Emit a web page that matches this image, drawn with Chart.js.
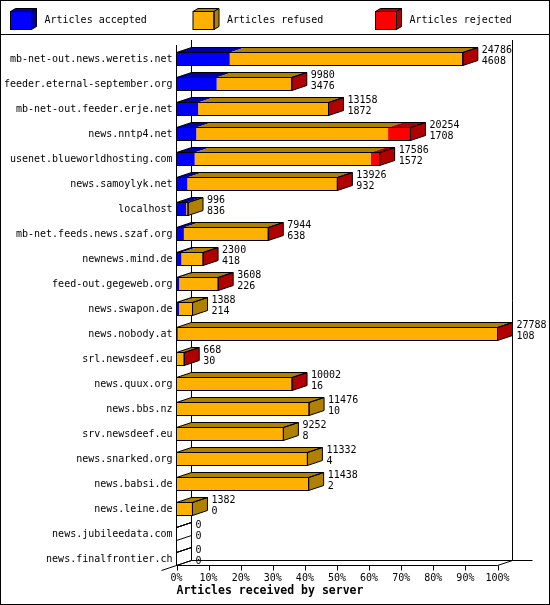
<!DOCTYPE html>
<html>
<head>
<meta charset="utf-8">
<title>Articles received by server</title>
<script src="https://cdn.jsdelivr.net/npm/chart.js@4.4.0/dist/chart.umd.min.js"></script>
<style>
  body { margin: 0; background: #fff; }
  canvas { display: block; }
</style>
</head>
<body>
<canvas id="bargraph" width="550" height="605"></canvas>
<script>
var servers = ['mb-net-out.news.weretis.net', 'feeder.eternal-september.org', 'mb-net-out.feeder.erje.net',
  'news.nntp4.net', 'usenet.blueworldhosting.com', 'news.samoylyk.net', 'localhost', 'mb-net.feeds.news.szaf.org',
  'newnews.mind.de', 'feed-out.gegeweb.org', 'news.swapon.de', 'news.nobody.at', 'srl.newsdeef.eu',
  'news.quux.org', 'news.bbs.nz', 'srv.newsdeef.eu', 'news.snarked.org', 'news.babsi.de', 'news.leine.de',
  'news.jubileedata.com', 'news.finalfrontier.ch'];
var totals   = [24786, 9980, 13158, 20254, 17586, 13926, 996, 7944, 2300, 3608, 1388, 27788, 668, 10002, 11476, 9252, 11332, 11438, 1382, 0, 0];
var accepted = [4608, 3476, 1872, 1708, 1572, 932, 836, 638, 418, 226, 214, 108, 30, 16, 10, 8, 4, 2, 0, 0, 0];
var refused  = [20138, 6484, 11256, 16606, 15234, 12979, 160, 7294, 1872, 3372, 1174, 27655, 634, 9978, 11466, 9244, 11328, 11436, 1382, 0, 0];
var rejected = [40, 20, 30, 1940, 780, 15, 0, 12, 10, 10, 0, 25, 4, 8, 0, 0, 0, 0, 0, 0, 0];
var pct_ticks = ['0%', '10%', '20%', '30%', '40%', '50%', '60%', '70%', '80%', '90%', '100%'];

var maxTotal = Math.max.apply(null, totals);
function pct(arr) {
  return arr.map(function(v){ return v / maxTotal * 100; });
}

var front = ['#0000ff', '#ffb000', '#ff0000'];
var shade = ['#0000aa', '#b08000', '#b00000'];
var DX = 15, DY = 5;
var mono = '"DejaVu Sans Mono", monospace';

function poly(ctx, pts) {
  ctx.beginPath();
  ctx.moveTo(pts[0][0], pts[0][1]);
  for (var k = 1; k < pts.length; k++) ctx.lineTo(pts[k][0], pts[k][1]);
  ctx.closePath();
}

// walls, floor, 3d faces, value labels and legend
var threeD = {
  id: 'threeD',
  beforeDatasetsDraw: function(chart) {
    var ctx = chart.ctx, a = chart.chartArea, xs = chart.scales.x, ys = chart.scales.y;
    var el = chart.getDatasetMeta(0).data[servers.length - 1];
    var floorY = el.y + el.height / 2;
    var x0 = xs.getPixelForValue(0), x1 = xs.getPixelForValue(100);
    ctx.save();
    ctx.strokeStyle = '#000';
    ctx.lineWidth = 1;
    ctx.beginPath();
    ctx.moveTo(x0, a.top - 1.5); ctx.lineTo(x0, floorY);
    ctx.moveTo(x0 + DX, a.top - 6.5); ctx.lineTo(x0 + DX, floorY - DY);
    ctx.moveTo(x1 + DX, a.top - 6.5); ctx.lineTo(x1 + DX, floorY - DY);
    ctx.moveTo(x0, floorY); ctx.lineTo(x1, floorY); ctx.lineTo(x1 + DX, floorY - DY); ctx.lineTo(x1 + DX + 20, floorY - DY);
    ctx.moveTo(x0 + DX, floorY - DY); ctx.lineTo(x1 + DX, floorY - DY);
    ctx.moveTo(x0 - DX, floorY + DY); ctx.lineTo(x0 + DX, floorY - DY);
    xs.ticks.forEach(function(t) {
      var px = Math.round(xs.getPixelForValue(t.value)) + 0.5;
      ctx.moveTo(px, floorY); ctx.lineTo(px, floorY + 5);
    });
    ctx.stroke();
    ctx.restore();
  },
  afterDatasetsDraw: function(chart) {
    var ctx = chart.ctx, xs = chart.scales.x;
    var x0 = xs.getPixelForValue(0);
    ctx.save();
    ctx.lineWidth = 1;
    ctx.font = '10px ' + mono;
    ctx.textBaseline = 'middle';
    ctx.textAlign = 'left';
    for (var i = 0; i < servers.length; i++) {
      var el0 = chart.getDatasetMeta(0).data[i];
      var top = el0.y - el0.height / 2, bot = el0.y + el0.height / 2;
      var R = x0, last = -1;
      for (var d = 0; d < 3; d++) {
        var el = chart.getDatasetMeta(d).data[i];
        var l = Math.min(el.base, el.x), r = Math.max(el.base, el.x);
        if (chart.data.datasets[d].data[i] > 0) {
          poly(ctx, [[l, top], [r, top], [r + DX, top - DY], [l + DX, top - DY]]);
          ctx.fillStyle = shade[d];
          ctx.fill();
          last = d;
        }
        R = Math.max(R, r);
      }
      var side = [[R, top], [R + DX, top - DY], [R + DX, bot - DY], [R, bot]];
      if (last >= 0) {
        poly(ctx, side);
        ctx.fillStyle = shade[last];
        ctx.fill();
      }
      ctx.strokeStyle = '#000';
      ctx.strokeRect(x0, top, R - x0, bot - top);
      poly(ctx, [[x0, top], [R, top], [R + DX, top - DY], [x0 + DX, top - DY]]);
      ctx.stroke();
      poly(ctx, side);
      ctx.stroke();
      ctx.fillStyle = '#000';
      ctx.fillText(String(totals[i]), R + DX + 4, el0.y - 9);
      ctx.fillText(String(accepted[i]), R + DX + 4, el0.y + 2);
    }
    ctx.restore();
  },
  afterDraw: function(chart) {
    var ctx = chart.ctx;
    ctx.save();
    ctx.lineWidth = 1;
    ctx.strokeStyle = '#000';
    ctx.beginPath();
    ctx.moveTo(0, 34.5); ctx.lineTo(550, 34.5);
    ctx.stroke();
    ctx.strokeRect(0.5, 0.5, 549, 604);
    ctx.font = '10px ' + mono;
    ctx.textBaseline = 'middle';
    chart.data.datasets.forEach(function(ds, d) {
      var bx = 10.5 + d * 182.5, by = 11.5, w = 21, h = 18;
      ctx.fillStyle = ds.backgroundColor;
      ctx.fillRect(bx, by, w, h);
      var topF = [[bx, by], [bx + w, by], [bx + w + 5, by - 3], [bx + 5, by - 3]];
      var sideF = [[bx + w, by], [bx + w + 5, by - 3], [bx + w + 5, by + h - 3], [bx + w, by + h]];
      poly(ctx, topF); ctx.fillStyle = shade[d]; ctx.fill(); ctx.stroke();
      poly(ctx, sideF); ctx.fillStyle = shade[d]; ctx.fill(); ctx.stroke();
      ctx.strokeRect(bx, by, w, h);
      ctx.fillStyle = '#000';
      ctx.fillText(ds.label, bx + 34, 20.5);
    });
    ctx.restore();
  }
};

var chartdata = {
  labels: servers,
  datasets: [
    { label: 'Articles accepted', data: pct(accepted), backgroundColor: front[0] },
    { label: 'Articles refused', data: pct(refused), backgroundColor: front[1] },
    { label: 'Articles rejected', data: pct(rejected), backgroundColor: front[2] }
  ]
};
chartdata.datasets.forEach(function(ds) {
  ds.borderWidth = 0;
  ds.barPercentage = 0.52;
  ds.categoryPercentage = 1;
});

var BarGraph = new Chart(document.getElementById('bargraph'), {
  type: 'bar',
  data: chartdata,
  plugins: [threeD],
  options: {
    indexAxis: 'y',
    responsive: false,
    animation: false,
    layout: { padding: { left: 0, right: 52.5, top: 46.5, bottom: 0 } },
    plugins: { legend: { display: false }, tooltip: { enabled: false } },
    scales: {
      x: {
        stacked: true, min: 0, max: 100,
        grid: { display: false, drawTicks: false },
        border: { display: false },
        ticks: {
          stepSize: 10, color: '#000', padding: 1, maxRotation: 0, autoSkip: false,
          font: { family: mono, size: 10 },
          callback: function(v, idx) { return pct_ticks[idx]; }
        },
        title: {
          display: true, text: 'Articles received by server', align: 'start', color: '#000',
          font: { family: mono, size: 11.5, weight: 'bold' },
          padding: { top: 0, bottom: 6.6 }
        },
        afterFit: function(s) { s.height = 33.5; }
      },
      y: {
        stacked: true,
        grid: { display: false, drawTicks: false },
        border: { display: false },
        ticks: { color: '#000', padding: 4, autoSkip: false, font: { family: mono, size: 10 } },
        afterFit: function(s) { s.width = 176.5; }
      }
    }
  }
});
</script>
</body>
</html>
